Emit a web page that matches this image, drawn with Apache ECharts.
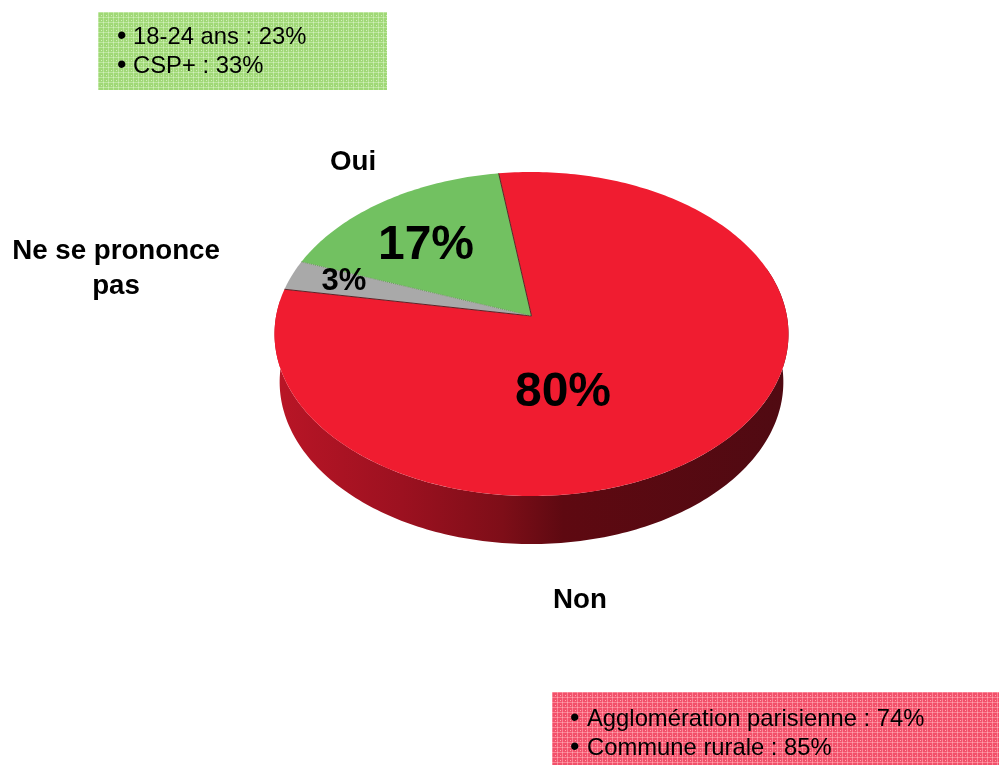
<!DOCTYPE html>
<html>
<head>
<meta charset="utf-8">
<style>html,body{margin:0;padding:0;background:#fff}#c{width:999px;height:765px}</style>
<script src="https://cdn.jsdelivr.net/npm/echarts@6/dist/echarts.min.js"></script>
</head>
<body>
<div id="c"></div>
<script>
// Data, clockwise from the first slice edge
const categories = ['Non', 'Ne se prononce\npas', 'Oui'];
const shares = [80, 3, 17];
const greenNotes = ['18-24 ans : 23%', 'CSP+ : 33%'];
const redNotes = ['Agglomération parisienne : 74%', 'Commune rurale : 85%'];

// Presentation
const sliceColors = ['#f01c30', '#a9a9a9', '#72c161'];
const percentLayout = [{x: 563, y: 393, s: 48}, {x: 344, y: 281, s: 31}, {x: 426, y: 246, s: 48}];
const nameLayout = [{x: 580, y: 600}, {x: 116, y: 269}, {x: 353, y: 162}];
const FONT = '"Liberation Sans", Arial, sans-serif';
const firstEdge = -8.2;            // degrees clockwise from the top
const pie = {ax: 531.5, ay: 316, R: 255.4, Rv: 160, k: 1 / 9, depth: 48, shrink: 0.98};

function rim(deg) {
  const t = deg * Math.PI / 180, u = Math.sin(t), v = Math.cos(t), w = 1 / (1 + pie.k * v);
  return [pie.ax + pie.R * u * w, pie.ay - pie.Rv * v * w];
}
function lowerRim(deg) {
  const p = rim(deg);
  return [pie.ax + (p[0] - pie.ax) * pie.shrink, p[1] + pie.depth];
}
function arc(fn, a, b) {
  const out = [], n = Math.max(2, Math.ceil(Math.abs(b - a)));
  for (let i = 0; i <= n; i++) out.push(fn(a + (b - a) * i / n));
  return out;
}
const total = shares.reduce((s, v) => s + v, 0);

function renderSlice(params, api) {
  const i = params.dataIndex, val = api.value(0);
  let start = firstEdge;
  for (let j = 0; j < i; j++) start += shares[j] / total * 360;
  const end = start + val / total * 360;
  const apex = [pie.ax, pie.ay];
  const children = [];
  // side wall: only the front of the disc is visible
  const wa = Math.max(start, 72), wb = Math.min(end, 276);
  if (wb > wa) {
    children.push({
      type: 'polygon',
      shape: {points: arc(lowerRim, wa, wb).concat(arc(rim, wb, wa))},
      style: {
        fill: {type: 'linear', x: 281, y: 0, x2: 785, y2: 0, global: true, colorStops: [
          {offset: 0, color: '#b81526'}, {offset: 0.24, color: '#9c1120'},
          {offset: 0.44, color: '#7e0e18'}, {offset: 0.56, color: '#5e0911'},
          {offset: 1, color: '#500a12'}
        ]}
      }
    });
  }
  children.push({
    type: 'polygon',
    shape: {points: [apex].concat(arc(rim, start, end))},
    style: {fill: sliceColors[i]}
  });
  if (i === 0) {
    children.push({type: 'polyline', z2: 5, shape: {points: [rim(end), apex, rim(start)]},
      style: {fill: null, stroke: '#5c2226', lineWidth: 1}});
  }
  if (i === 2) {
    children.push({type: 'polyline', z2: 5, shape: {points: [rim(start), apex]},
      style: {fill: null, stroke: '#6f8f62', lineWidth: 1, lineDash: [1, 1]}});
  }
  const pl = percentLayout[i], nl = nameLayout[i];
  children.push({type: 'text', z2: 20, style: {
    x: pl.x, y: pl.y, text: val + '%', align: 'center', verticalAlign: 'middle',
    fill: '#000', font: 'bold ' + pl.s + 'px ' + FONT}});
  children.push({type: 'text', z2: 20, style: {
    x: nl.x, y: nl.y, text: categories[i], align: 'center', verticalAlign: 'middle',
    fill: '#000', font: 'bold 27.7px ' + FONT, lineHeight: 35}});
  return {type: 'group', children};
}

function tile(base, light, mid) {
  const c = document.createElement('canvas');
  c.width = c.height = 5;
  const g = c.getContext('2d');
  g.fillStyle = base; g.fillRect(0, 0, 5, 5);
  g.fillStyle = mid; g.fillRect(0, 0, 5, 1); g.fillRect(0, 0, 1, 5);
  g.fillStyle = light; g.fillRect(0, 0, 1, 1); g.fillRect(3, 3, 1, 1);
  return c;
}
function noteBox(x, y, w, h, img, notes, bx, tx, ys) {
  const kids = [{type: 'rect', left: x, top: y, shape: {width: w, height: h},
    style: {fill: {type: 'pattern', image: img, repeat: 'repeat'}}}];
  notes.forEach((n, k) => {
    kids.push({type: 'text', x: bx, y: ys[k], style: {text: '•', fill: '#000',
      font: '27px ' + FONT, verticalAlign: 'middle'}});
    kids.push({type: 'text', x: tx, y: ys[k], style: {text: n, fill: '#000',
      font: '23.8px ' + FONT, verticalAlign: 'middle'}});
  });
  return kids;
}

const chart = echarts.init(document.getElementById('c'));
chart.setOption({
  animation: false,
  backgroundColor: '#fff',
  series: [{
    type: 'custom',
    coordinateSystem: 'none',
    renderItem: renderSlice,
    data: shares.map((v, i) => ({name: categories[i], value: [v]})),
    silent: true
  }],
  graphic: [].concat(
    noteBox(98, 12, 289, 78, tile('#a0d876', '#d2f0ba', '#bce69e'), greenNotes, 117, 133, [37, 66]),
    noteBox(552, 692, 447, 73, tile('#f2506a', '#fea4ae', '#fa8293'), redNotes, 570, 587, [719, 748])
  )
});
</script>
</body>
</html>
